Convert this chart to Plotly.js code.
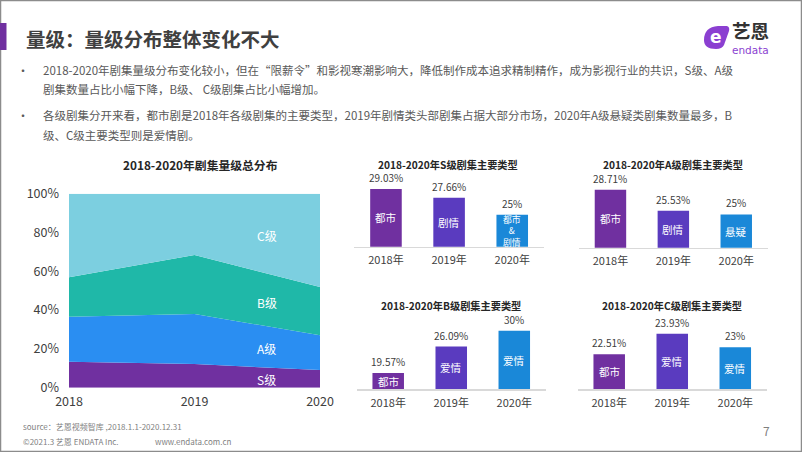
<!DOCTYPE html>
<html>
<head>
<meta charset="utf-8">
<script src="https://cdn.plot.ly/plotly-3.0.1.min.js"></script>
<style>html,body{margin:0;padding:0;background:#fff;}#chart{width:802px;height:452px;}</style>
</head>
<body>
<div id="chart"></div>
<script>
// ---------- data ----------
const years = [2018, 2019, 2020];
const gradeNames = ['S级', 'A级', 'B级', 'C级'];
const shareS = [13.4, 12.2, 9.1];
const shareA = [23.2, 25.8, 17.9];
const shareB = [20.3, 30.4, 24.9];
const shareC = [43.1, 31.6, 48.1];
const pctTicks = [0, 20, 40, 60, 80, 100];

const barCats = ['2018年', '2019年', '2020年'];
const sTop = [29.03, 27.66, 25];
const sGenre = ['都市', '剧情', '都市<br>&<br>剧情'];
const aTop = [28.71, 25.53, 25];
const aGenre = ['都市', '剧情', '悬疑'];
const bTop = [19.57, 26.09, 30];
const bGenre = ['都市', '爱情', '爱情'];
const cTop = [22.51, 23.93, 23];
const cGenre = ['都市', '爱情', '爱情'];

const titleMain = '量级：量级分布整体变化不大';
const areaTitle = '2018-2020年剧集量级总分布';
const barTitles = ['2018-2020年S级剧集主要类型', '2018-2020年A级剧集主要类型', '2018-2020年B级剧集主要类型', '2018-2020年C级剧集主要类型'];
const bullets = [
  ['2018-2020年剧集量级分布变化较小，但在“限薪令”和影视寒潮影响大，降低制作成本追求精制精作，成为影视行业的共识，S级、A级',
   '剧集数量占比小幅下降，B级、 C级剧集占比小幅增加。'],
  ['各级剧集分开来看，都市剧是2018年各级剧集的主要类型，2019年剧情类头部剧集占据大部分市场，2020年A级悬疑类剧集数量最多，B',
   '级、C级主要类型则是爱情剧。']
];

// ---------- style ----------
const W = 802, H = 452;
const FONT = '"Noto Sans CJK SC", "Noto Sans", sans-serif';
const areaColors = ['#7030a0', '#2a8ef2', '#1fb8a8', '#7ccfe0'];
const barColors = ['#7030a0', '#5a3bbf', '#1a88d8'];
const px = x => x / W;
const py = y => 1 - y / H;

// ---------- traces ----------
const shares = [shareS, shareA, shareB, shareC];
const traces = shares.map((s, i) => ({
  type: 'scatter', x: years, y: s, name: gradeNames[i],
  stackgroup: 'one', mode: 'none', fillcolor: areaColors[i],
  xaxis: 'x', yaxis: 'y', hoverinfo: 'skip'
}));

const barCfg = [
  {v: sTop, g: sGenre, n: 2, x0: 354.4, x1: 543.8, yt: 175, yb: 246.7, lo: 20, slope: 6.38, tx: 448, ty: 164.5},
  {v: aTop, g: aGenre, n: 3, x0: 579, x1: 767.7, yt: 175, yb: 247.7, lo: 20, slope: 6.66, tx: 673, ty: 164.5},
  {v: bTop, g: bGenre, n: 4, x0: 356.7, x1: 545.8, yt: 318, yb: 389.3, lo: 15.5, slope: 4.03, tx: 451, ty: 305.5},
  {v: cTop, g: cGenre, n: 5, x0: 577.7, x1: 766.8, yt: 318, yb: 389.3, lo: 20.1, slope: 14.5, tx: 672, ty: 305.5}
];

const layout = {
  width: W, height: H,
  margin: {l: 0, r: 0, t: 0, b: 0},
  paper_bgcolor: '#ffffff', plot_bgcolor: 'rgba(0,0,0,0)',
  showlegend: false,
  bargap: 0.5,
  font: {family: FONT, color: '#404040', size: 12},
  xaxis: {
    domain: [px(69), px(320)], range: [2018, 2020], anchor: 'y',
    tickvals: years, ticktext: years.map(String), showgrid: false, zeroline: false,
    showline: false, ticks: '', ticklabelstandoff: 5,
    tickfont: {size: 12.5, color: '#404040', family: FONT}
  },
  yaxis: {
    domain: [py(387.7), py(193.7)], range: [0, 100], anchor: 'x',
    tickvals: pctTicks, ticktext: pctTicks.map(v => v + '%'), showgrid: false, zeroline: false,
    showline: false, ticks: '', ticklabelstandoff: 9,
    tickfont: {size: 12.5, color: '#404040', family: FONT}
  },
  shapes: [
    {type: 'rect', xref: 'paper', yref: 'paper', x0: 0, x1: 1, y0: 0, y1: 1,
     line: {color: '#8c8c8c', width: 2.5}, fillcolor: 'rgba(0,0,0,0)'},
    {type: 'rect', xref: 'paper', yref: 'paper', x0: px(0), x1: px(6.5), y0: py(50), y1: py(23),
     line: {width: 0}, fillcolor: '#7030a0'},
    {type: 'path', xref: 'paper', yref: 'paper',
     path: 'M ' + px(704) + ' ' + py(40) + ' Q ' + px(704) + ' ' + py(27) + ' ' + px(718) + ' ' + py(26) +
           ' L ' + px(727) + ' ' + py(26) + ' Q ' + px(730) + ' ' + py(27) + ' ' + px(729) + ' ' + py(31) +
           ' L ' + px(724) + ' ' + py(45) + ' Q ' + px(722) + ' ' + py(49) + ' ' + px(716) + ' ' + py(49) +
           ' Q ' + px(704) + ' ' + py(49) + ' ' + px(704) + ' ' + py(40) + ' Z',
     line: {width: 0}, fillcolor: '#8b3fd1'}
  ],
  annotations: []
};

const ann = layout.annotations;
ann.push({xref: 'paper', yref: 'paper', x: px(24), y: py(38), xanchor: 'left', yanchor: 'middle',
  text: '<b>' + titleMain + '</b>', showarrow: false, font: {size: 19.5, color: '#404040', family: FONT}});
// logo
ann.push({xref: 'paper', yref: 'paper', x: px(716), y: py(37), xanchor: 'center', yanchor: 'middle',
  text: '<b>e</b>', showarrow: false, font: {size: 17, color: '#ffffff', family: '"DejaVu Sans", sans-serif'}});
ann.push({xref: 'paper', yref: 'paper', x: px(750), y: py(30), xanchor: 'center', yanchor: 'middle', borderpad: 0,
  text: '<b>艺恩</b>', showarrow: false, font: {size: 18.5, color: '#333333', family: FONT}});
ann.push({xref: 'paper', yref: 'paper', x: px(750), y: py(50), xanchor: 'center', yanchor: 'middle', borderpad: 0,
  text: 'endata', showarrow: false, font: {size: 10.5, color: '#8b3fd1', family: '"DejaVu Sans", sans-serif'}});

// bullets
const lineY = [[70, 89], [115, 135]];
bullets.forEach((lines, i) => {
  ann.push({xref: 'paper', yref: 'paper', x: px(15), y: py(lineY[i][0]), xanchor: 'left', yanchor: 'middle',
    text: '•', showarrow: false, font: {size: 12, color: '#595959', family: FONT}});
  lines.forEach((t, j) => {
    ann.push({xref: 'paper', yref: 'paper', x: px(41), y: py(lineY[i][j]), xanchor: 'left', yanchor: 'middle',
      text: t, showarrow: false, font: {size: 11.5, color: '#595959', family: FONT}});
  });
});

// area chart title + labels
ann.push({xref: 'paper', yref: 'paper', x: px(200), y: py(165), xanchor: 'center', yanchor: 'middle',
  text: '<b>' + areaTitle + '</b>', showarrow: false, font: {size: 11.8, color: '#262626', family: FONT}});
const areaLabelY = [4, 20, 43.7, 78.5];
gradeNames.forEach((g, i) => {
  ann.push({xref: 'x', yref: 'y', x: 2019.575, y: areaLabelY[i], xanchor: 'center', yanchor: 'middle',
    text: g, showarrow: false, font: {size: 12, color: '#ffffff', family: FONT}});
});

// bar charts
barCfg.forEach((c, k) => {
  const xa = 'x' + c.n, ya = 'y' + c.n;
  const hi = c.lo + (c.yb - c.yt) / c.slope;
  traces.push({type: 'bar', x: barCats, y: c.v, xaxis: xa, yaxis: ya,
    marker: {color: barColors, line: {width: 0}}, hoverinfo: 'skip', cliponaxis: true});
  layout['xaxis' + c.n] = {
    domain: [px(c.x0), px(c.x1)], anchor: ya, type: 'category', range: [-0.5, 2.5],
    showgrid: false, zeroline: false, showline: true, linecolor: '#d9d9d9', linewidth: 1.5,
    ticks: '', ticklabelstandoff: 3, tickfont: {size: 11, color: '#404040', family: FONT}
  };
  layout['yaxis' + c.n] = {
    domain: [py(c.yb), py(c.yt)], anchor: xa, range: [c.lo, hi],
    visible: false, showgrid: false, zeroline: false
  };
  ann.push({xref: 'paper', yref: 'paper', x: px(c.tx), y: py(c.ty), xanchor: 'center', yanchor: 'middle',
    text: '<b>' + barTitles[k] + '</b>', showarrow: false, font: {size: 10.2, color: '#262626', family: FONT}});
  c.v.forEach((v, i) => {
    ann.push({xref: xa, yref: ya, x: barCats[i], y: v, xanchor: 'center', yanchor: 'bottom', yshift: 2,
      text: v + '%', showarrow: false, font: {size: 10, color: '#404040', family: FONT}});
    const multi = c.g[i].indexOf('<br>') >= 0;
    ann.push({xref: xa, yref: ya, x: barCats[i], y: (c.lo + v) / 2, xanchor: 'center', yanchor: 'middle',
      borderpad: 0, text: c.g[i], showarrow: false,
      font: {size: multi ? 8.8 : 10.5, color: '#ffffff', family: FONT}});
  });
});

// footer
ann.push({xref: 'paper', yref: 'paper', x: px(21), y: py(426), xanchor: 'left', yanchor: 'middle',
  text: 'source：艺恩视频智库 ,2018.1.1-2020.12.31', showarrow: false, font: {size: 8, color: '#7f7f7f', family: FONT}});
ann.push({xref: 'paper', yref: 'paper', x: px(21), y: py(441), xanchor: 'left', yanchor: 'middle',
  text: '©2021.3 艺恩 ENDATA Inc.', showarrow: false, font: {size: 8, color: '#7f7f7f', family: FONT}});
ann.push({xref: 'paper', yref: 'paper', x: px(153), y: py(441), xanchor: 'left', yanchor: 'middle',
  text: 'www.endata.com.cn', showarrow: false, font: {size: 8, color: '#7f7f7f', family: FONT}});
ann.push({xref: 'paper', yref: 'paper', x: px(766), y: py(430), xanchor: 'center', yanchor: 'middle',
  text: '7', showarrow: false, font: {size: 12, color: '#7f7f7f', family: FONT}});

Plotly.newPlot('chart', traces, layout, {staticPlot: true, displayModeBar: false});
</script>
</body>
</html>
